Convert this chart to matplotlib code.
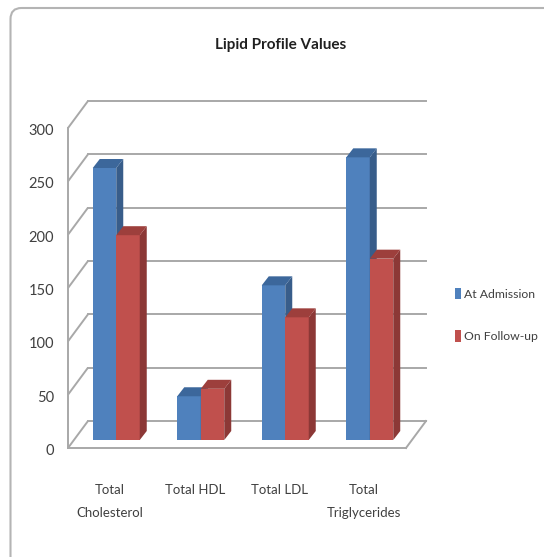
import matplotlib
matplotlib.use("Agg")
import matplotlib.pyplot as plt
from matplotlib.patches import Polygon, Patch, FancyBboxPatch

# Data
categories = ["Total\nCholesterol", "Total HDL", "Total LDL", "Total\nTriglycerides"]
series_names = ["At Admission", "On Follow-up"]
at_admission = [255, 41, 145, 265]
on_follow_up = [192, 48, 115, 170]
y_ticks = [0, 50, 100, 150, 200, 250, 300]

FONT = ["Lato", "DejaVu Sans"]

W, H = 544, 557
fig = plt.figure(figsize=(W / 100, H / 100), dpi=100)
ax = fig.add_axes([0, 0, 1, 1])
ax.set_axis_off()

# Pixel scale of one category unit and one value unit
px_x = 84.5
px_y = 320 / 300
x0_px, y0_px = 68, 448            # front corner of the floor
ax.set_xlim(-0.5 - x0_px / px_x, -0.5 + (W - x0_px) / px_x)
ax.set_ylim(-(H - y0_px) / px_y, y0_px / px_y)

# Oblique depth of the walls and of the bars
wall_dx, wall_dy = 20 / px_x, 27 / px_y
plane_dx, plane_dy = 6 / px_x, 8 / px_y
bar_dx, bar_dy = 7 / px_x, 9 / px_y
bar_w = 23.5 / px_x

grid_c = "#a8a8a8"
left, right = -0.5, len(categories) - 0.5

# Side wall diagonals and back wall gridlines
for v in y_ticks:
    ax.plot([left, left + wall_dx], [v, v + wall_dy], color=grid_c, lw=1.4,
            solid_capstyle="butt", zorder=1)
    ax.plot([left + wall_dx, right + wall_dx], [v + wall_dy, v + wall_dy],
            color=grid_c, lw=1.4, zorder=1)
# Front value axis and floor edges
ax.plot([left, left], [0, y_ticks[-1]], color=grid_c, lw=1.4, zorder=1)
ax.plot([left, right], [0, 0], color=grid_c, lw=1.4, zorder=1)
ax.plot([right, right + wall_dx], [0, wall_dy], color=grid_c, lw=1.4, zorder=1)

# Value labels
for v in y_ticks:
    ax.text(left - 14 / px_x, v - 3 / px_y, str(v), ha="right", va="center",
            fontsize=10.5, family=FONT, color="#404040")

colors = [
    ("#4f81bd", "#385d8a", "#3c679b"),
    ("#c0504d", "#8c3836", "#9d3f3c"),
]

# Draw bars category by category so that nearer bars overlap correctly
for ci in range(len(categories)):
    for si, vals in enumerate([at_admission, on_follow_up]):
        front, side, top = colors[si]
        xl = ci + plane_dx - bar_w + si * bar_w
        xr = xl + bar_w
        b = plane_dy
        t = plane_dy + vals[ci]
        z = 3 + ci * 2 + si * 0.5
        ax.bar(xl, vals[ci], bottom=b, width=bar_w, align="edge",
               color=front, edgecolor="none", zorder=z)
        ax.add_patch(Polygon([(xr, b), (xr + bar_dx, b + bar_dy),
                              (xr + bar_dx, t + bar_dy), (xr, t)],
                             closed=True, facecolor=side, edgecolor="none",
                             zorder=z))
        ax.add_patch(Polygon([(xl, t), (xr, t), (xr + bar_dx, t + bar_dy),
                              (xl + bar_dx, t + bar_dy)],
                             closed=True, facecolor=top, edgecolor="none",
                             zorder=z))

# Category labels
for ci, name in enumerate(categories):
    ax.text(ci, -34, name, ha="center", va="top", fontsize=9.5, family=FONT,
            color="#404040", linespacing=2.1)

# Title
ax.text(281 / W, 1 - 45 / H, "Lipid Profile Values", transform=fig.transFigure,
        ha="center", va="center", fontsize=11, fontweight="bold", family=FONT,
        color="#202020")

# Legend
handles = [Patch(facecolor=colors[0][0]), Patch(facecolor=colors[1][0])]
fig.legend(handles, series_names, loc="center left",
           bbox_to_anchor=(455 / W, 1 - 315 / H), frameon=False,
           prop={"family": FONT, "size": 8.8}, handlelength=0.5,
           handleheight=1.1, handletextpad=0.25, labelspacing=2.5,
           borderaxespad=0.0, borderpad=0.0, labelcolor="#404040")

# Chart area border
fig.patches.append(FancyBboxPatch((10.5 / W, -0.05), 1.2, 0.05 + 1 - 8 / H,
                                  boxstyle="round,pad=0,rounding_size=0.02",
                                  transform=fig.transFigure, facecolor="none",
                                  edgecolor="#b4b4b4", lw=1.5, figure=fig))

fig.savefig("out.png", dpi=100)
